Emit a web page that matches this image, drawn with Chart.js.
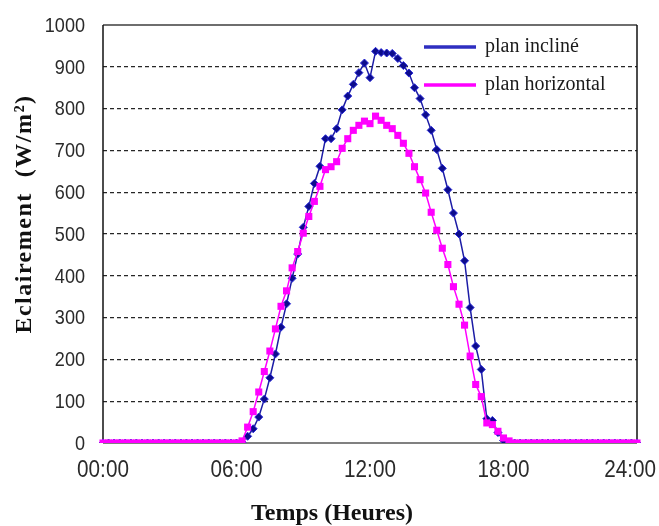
<!DOCTYPE html>
<html>
<head>
<meta charset="utf-8">
<script src="https://cdn.jsdelivr.net/npm/chart.js@4.4.1/dist/chart.umd.min.js"></script>
<style>
  html, body { margin: 0; padding: 0; background: #ffffff; }
  #wrap { width: 659px; height: 526px; }
</style>
</head>
<body>
<div id="wrap"><canvas id="c" width="659" height="526"></canvas></div>
<script>
// ---- Data (15-minute steps over one day) ----
const timeLabels = [
  "00:00","00:15","00:30","00:45","01:00","01:15","01:30","01:45",
  "02:00","02:15","02:30","02:45","03:00","03:15","03:30","03:45",
  "04:00","04:15","04:30","04:45","05:00","05:15","05:30","05:45",
  "06:00","06:15","06:30","06:45","07:00","07:15","07:30","07:45",
  "08:00","08:15","08:30","08:45","09:00","09:15","09:30","09:45",
  "10:00","10:15","10:30","10:45","11:00","11:15","11:30","11:45",
  "12:00","12:15","12:30","12:45","13:00","13:15","13:30","13:45",
  "14:00","14:15","14:30","14:45","15:00","15:15","15:30","15:45",
  "16:00","16:15","16:30","16:45","17:00","17:15","17:30","17:45",
  "18:00","18:15","18:30","18:45","19:00","19:15","19:30","19:45",
  "20:00","20:15","20:30","20:45","21:00","21:15","21:30","21:45",
  "22:00","22:15","22:30","22:45","23:00","23:15","23:30","23:45",
  "24:00"
];

const tickLabels = ["00:00", "06:00", "12:00", "18:00", "24:00"];

const planIncline = [
  0,0,0,0,0,0,0,0, 0,0,0,0,0,0,0,0, 0,0,0,0,0,0,0,0,
  0,2,16,34,
  62,105,156,213,
  277,333,394,452,
  516,566,621,662,
  728,728,752,797,
  830,858,886,909,
  874,937,934,933,
  932,920,903,885,
  850,824,785,748,
  702,657,606,550,
  500,436,324,232,
  176,58,54,25,
  6,0,0,0, 0,0,0,0, 0,0,0,0, 0,0,0,0, 0,0,0,0, 0,0,0,0,
  0
];

const planHorizontal = [
  0,0,0,0,0,0,0,0, 0,0,0,0,0,0,0,0, 0,0,0,0,0,0,0,0,
  0,5,38,75,
  122,171,220,273,
  327,364,419,458,
  502,542,578,614,
  654,661,673,705,
  728,748,760,770,
  764,782,772,760,
  752,736,717,693,
  661,630,598,552,
  509,466,427,374,
  332,282,208,140,
  111,48,44,28,
  12,5,0,0, 0,0,0,0, 0,0,0,0, 0,0,0,0, 0,0,0,0, 0,0,0,0,
  0
];

const seriesNames = ["plan incliné", "plan horizontal"];
const yTitle = "Eclairement  (W/m\u00B2)";
const xTitle = "Temps (Heures)";

const BLUE_LINE = "#1c1ca6";
const BLUE_MARK = "#0c0c8c";
const PINK = "#ff00ff";

// ---- Plugins: frame, tick labels, legend and axis titles ----
const framePlugin = {
  id: "frame",
  beforeDatasetsDraw(chart) {
    const {ctx, chartArea: a} = chart;
    ctx.save();
    ctx.setLineDash([]);
    ctx.strokeStyle = "#6e6e6e"; ctx.lineWidth = 2;
    ctx.beginPath(); ctx.moveTo(a.left, a.top); ctx.lineTo(a.right, a.top); ctx.stroke();
    ctx.strokeStyle = "#808080"; ctx.lineWidth = 2;
    ctx.beginPath(); ctx.moveTo(a.left, a.bottom); ctx.lineTo(a.right, a.bottom); ctx.stroke();
    ctx.strokeStyle = "#111111"; ctx.lineWidth = 1.5;
    ctx.beginPath(); ctx.moveTo(a.left, a.top); ctx.lineTo(a.left, a.bottom); ctx.stroke();
    ctx.beginPath(); ctx.moveTo(a.right, a.top); ctx.lineTo(a.right, a.bottom); ctx.stroke();
    ctx.restore();
  }
};

const tickLabelPlugin = {
  id: "narrowTicks",
  afterDraw(chart) {
    const {ctx} = chart;
    const ys = chart.scales.y, xs = chart.scales.x;
    ctx.save();
    ctx.fillStyle = "#2a2a2a";
    // y tick labels (condensed)
    ctx.font = "21px 'Liberation Sans', Arial, sans-serif";
    ctx.textAlign = "right"; ctx.textBaseline = "middle";
    ys.ticks.forEach(t => {
      const y = ys.getPixelForValue(t.value);
      ctx.save();
      ctx.translate(ys.right - 18, y + 1);
      ctx.scale(0.86, 1);
      ctx.fillText(String(t.label), 0, 0);
      ctx.restore();
    });
    // x tick labels (condensed)
    ctx.font = "23px 'Liberation Sans', Arial, sans-serif";
    ctx.textAlign = "center";
    xs.ticks.forEach((t, i) => {
      if (t.label === null || t.label === undefined || t.label === "") return;
      const w = ctx.measureText(t.label).width * 0.9;
      let x = xs.getPixelForTick(i);
      x = Math.min(x, chart.width - 3 - w / 2);
      ctx.save();
      ctx.translate(x, xs.top + 28);
      ctx.scale(0.9, 1);
      ctx.fillText(t.label, 0, 0);
      ctx.restore();
    });
    ctx.restore();
  }
};

const legendTitlePlugin = {
  id: "legendTitles",
  afterDraw(chart) {
    const {ctx, chartArea: a} = chart;
    ctx.save();
    const ds = chart.data.datasets;
    const rows = [a.top + 22, a.top + 60];
    ds.forEach((d, i) => {
      const y = rows[i];
      ctx.strokeStyle = d.legendColor || d.borderColor;
      ctx.lineWidth = 3.5;
      ctx.setLineDash([]);
      ctx.beginPath(); ctx.moveTo(a.right - 213, y); ctx.lineTo(a.right - 161, y); ctx.stroke();
      ctx.fillStyle = "#1a1a1a";
      ctx.font = "20px 'Liberation Serif', 'Times New Roman', serif";
      ctx.textAlign = "left"; ctx.textBaseline = "middle";
      ctx.fillText(d.label, a.right - 152, y);
    });
    ctx.fillStyle = "#111111";
    ctx.font = "bold 24px 'Liberation Serif', 'Times New Roman', serif";
    ctx.textAlign = "center"; ctx.textBaseline = "middle";
    ctx.fillText(xTitle, 332, 514);
    ctx.translate(25, 214);
    ctx.rotate(-Math.PI / 2);
    try { ctx.letterSpacing = "1.5px"; } catch (e) {}
    ctx.fillText(yTitle, 0, 0);
    ctx.restore();
  }
};

const ctx = document.getElementById("c").getContext("2d");
new Chart(ctx, {
  type: "line",
  data: {
    labels: timeLabels,
    datasets: [
      {
        label: seriesNames[0],
        data: planIncline,
        borderColor: BLUE_LINE,
        legendColor: "#2e2ec0",
        backgroundColor: BLUE_MARK,
        pointBackgroundColor: BLUE_MARK,
        pointBorderColor: "#2a2ad8",
        pointBorderWidth: 1,
        pointStyle: "rectRot",
        pointRadius: 4,
        borderWidth: 1.5,
        tension: 0,
        order: 2
      },
      {
        label: seriesNames[1],
        data: planHorizontal,
        borderColor: PINK,
        backgroundColor: PINK,
        pointBackgroundColor: PINK,
        pointBorderColor: PINK,
        pointBorderWidth: 0,
        pointStyle: "rect",
        pointRadius: 5,
        borderWidth: 1.5,
        tension: 0,
        order: 1
      }
    ]
  },
  options: {
    responsive: false,
    animation: false,
    devicePixelRatio: 1,
    layout: { padding: { top: 25, right: 22, left: 0, bottom: 0 } },
    plugins: {
      legend: { display: false },
      tooltip: { enabled: false },
      title: { display: false }
    },
    scales: {
      x: {
        type: "category",
        offset: false,
        afterFit(scale) {
          scale.height = 83;
          scale.paddingLeft = 0; scale.paddingRight = 0;
        },
        grid: { display: false, drawTicks: false },
        border: { display: false },
        ticks: {
          display: false,
          autoSkip: false,
          maxRotation: 0,
          minRotation: 0,
          callback(value, index) {
            const lab = timeLabels[index];
            return tickLabels.includes(lab) ? lab : null;
          }
        }
      },
      y: {
        min: 0,
        max: 1000,
        afterFit(scale) {
          scale.width = 103;
          scale.paddingTop = 0; scale.paddingBottom = 0;
        },
        grid: {
          drawTicks: false,
          lineWidth: 1.3,
          color(c) {
            const v = c.tick && c.tick.value;
            return (v === 0 || v === 1000) ? "rgba(0,0,0,0)" : "#262626";
          }
        },
        border: { display: false, dash: [4, 3] },
        ticks: {
          display: false,
          stepSize: 100,
          callback(value) { return String(value); }
        }
      }
    }
  },
  plugins: [framePlugin, tickLabelPlugin, legendTitlePlugin]
});
</script>
</body>
</html>
